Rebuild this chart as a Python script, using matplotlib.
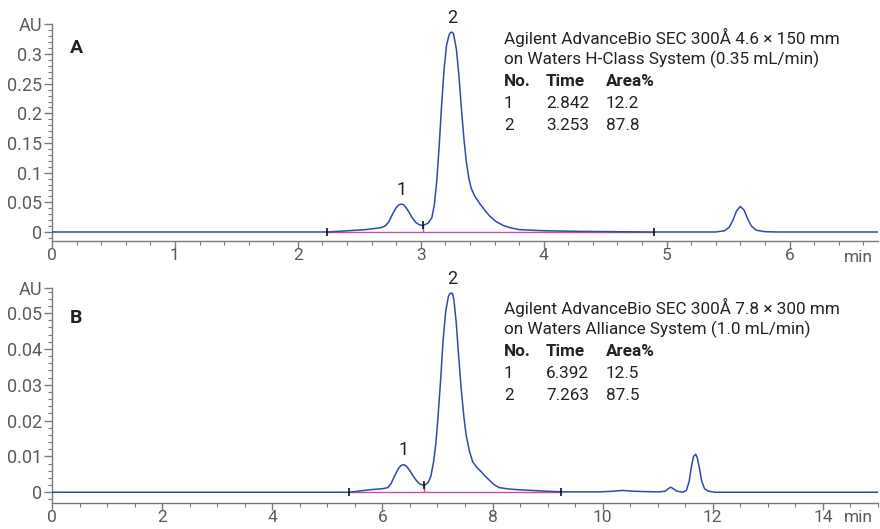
import numpy as np
import matplotlib
matplotlib.use("Agg")
import matplotlib.pyplot as plt
from matplotlib.ticker import MultipleLocator

plt.rcParams['font.family'] = ['Roboto', 'DejaVu Sans']

# --- panel A: 4.6 x 150 mm column, H-Class (time in min, signal in AU)
time_a = [0.0, 1.70, 2.24, 2.40, 2.55, 2.67, 2.71, 2.74, 2.77, 2.80, 2.822, 2.842,
          2.862, 2.87, 2.90, 2.93, 2.96, 2.99, 3.02, 3.06, 3.09, 3.11, 3.13, 3.15,
          3.17, 3.19, 3.21, 3.23, 3.24, 3.253, 3.265, 3.27, 3.29, 3.31, 3.33, 3.35, 3.37,
          3.39, 3.41, 3.44, 3.48, 3.52, 3.56, 3.61, 3.67, 3.73, 3.80, 3.90,
          4.02, 4.30, 4.60, 4.90, 5.40, 5.47, 5.51, 5.54, 5.57, 5.60, 5.63,
          5.66, 5.69, 5.73, 5.80, 5.90, 6.72]
au_a = [0.0, 0.0, 0.0, 0.002, 0.004, 0.007, 0.010, 0.017, 0.030, 0.041, 0.0458, 0.047,
        0.0458, 0.044, 0.035, 0.024, 0.016, 0.012, 0.011, 0.015, 0.024, 0.045, 0.085, 0.145,
        0.215, 0.275, 0.315, 0.332, 0.336, 0.337, 0.335, 0.330, 0.308, 0.265, 0.210, 0.160, 0.120,
        0.092, 0.074, 0.060, 0.048, 0.037, 0.027, 0.018, 0.011, 0.007, 0.004, 0.003,
        0.002, 0.001, 0.0005, 0.0, 0.0, 0.002, 0.008, 0.020, 0.036, 0.043, 0.037,
        0.022, 0.010, 0.003, 0.0005, 0.0, 0.0]
cuts_a = [2.24, 3.02, 4.90]
cut_au_a = [0.0, 0.011, 0.0]
peaks_a = [2.842, 3.253]
peak_au_a = [0.047, 0.337]

# --- panel B: 7.8 x 300 mm column, Alliance
time_b = [0.0, 5.40, 5.77, 6.01, 6.10, 6.16, 6.22, 6.29, 6.34, 6.392, 6.44,
          6.50, 6.56, 6.62, 6.68, 6.76, 6.83, 6.88, 6.93, 6.97, 7.01, 7.06,
          7.10, 7.15, 7.20, 7.23, 7.263, 7.28, 7.30, 7.34, 7.38, 7.43, 7.48, 7.52, 7.58,
          7.64, 7.71, 7.79, 7.86, 7.94, 8.03, 8.12, 8.30, 8.48, 8.97, 9.30,
          9.94, 10.20, 10.36, 10.55, 10.72, 11.02, 11.14, 11.20, 11.24, 11.29,
          11.35, 11.45, 11.52, 11.57, 11.61, 11.65, 11.69, 11.72, 11.76, 11.80,
          11.85, 11.92, 12.04, 15.0]
au_b = [0.0, 0.0, 0.0007, 0.0010, 0.0013, 0.0025, 0.0045, 0.0066, 0.0075, 0.0077, 0.0072,
        0.0060, 0.0045, 0.0032, 0.0023, 0.0019, 0.0027, 0.0045, 0.0085, 0.0135, 0.021, 0.032,
        0.042, 0.0505, 0.0548, 0.0555, 0.0556, 0.0551, 0.0535, 0.0475, 0.039, 0.029, 0.021, 0.016, 0.0115,
        0.0085, 0.0070, 0.0058, 0.0046, 0.0034, 0.0021, 0.0013, 0.0009, 0.0007, 0.0003, 0.0001,
        0.0001, 0.0003, 0.0005, 0.0003, 0.0002, 0.0001, 0.0003, 0.0011, 0.0014, 0.0009,
        0.0003, 0.0, 0.0005, 0.0030, 0.0070, 0.0100, 0.0106, 0.0095, 0.0065, 0.0030,
        0.0010, 0.0003, 0.0, 0.0]
cuts_b = [5.40, 6.76, 9.25]
cut_au_b = [0.0, 0.0019, 0.0]
peaks_b = [6.392, 7.263]
peak_au_b = [0.0077, 0.0556]

info_a = ["Agilent AdvanceBio SEC 300Å 4.6 × 150 mm",
          "on Waters H-Class System (0.35 mL/min)"]
info_b = ["Agilent AdvanceBio SEC 300Å 7.8 × 300 mm",
          "on Waters Alliance System (1.0 mL/min)"]
table_a = [["1", "2.842", "12.2"], ["2", "3.253", "87.8"]]
table_b = [["1", "6.392", "12.5"], ["2", "7.263", "87.5"]]

LINE = '#2f4aa8'
PINK = '#d04aa0'
AXC = '#7a7a7a'
TXT = '#5a5a5a'
DARK = '#222222'
FS = 12.3

fig = plt.figure(figsize=(8.8, 5.29), dpi=100)
W, H = 880.0, 529.0


def setup(ax, xmax, ymin, ymax, yminor, xmajor, xminor, yticks):
    for s in ['top', 'right']:
        ax.spines[s].set_visible(False)
    for s in ['left', 'bottom']:
        ax.spines[s].set_color(AXC)
        ax.spines[s].set_linewidth(1.0)
    ax.set_xticks(np.arange(0, xmax, xmajor))
    ax.xaxis.set_minor_locator(MultipleLocator(xminor))
    labels = [('0' if v == 0 else ('%g' % v)) for v in yticks]
    ax.set_yticks(list(yticks) + [ymax], labels + ['AU'])
    ax.yaxis.set_minor_locator(MultipleLocator(yminor))
    ax.tick_params(which='major', length=6, width=1, color=AXC,
                   labelcolor=TXT, labelsize=13, pad=1)
    ax.tick_params(which='minor', length=3, width=0.8, color=AXC)
    ax.tick_params(axis='x', which='major', length=5, pad=0, labelsize=12.5)
    ax.set_xlim(0, xmax)
    ax.set_ylim(ymin, ymax)


def draw(ax, t, y, cuts, cut_au, peaks, peak_au):
    ax.plot([cuts[0], cuts[-1]], [0, 0], color=PINK, lw=1.0, zorder=2)
    ax.vlines(cuts[1], 0, cut_au[1], color=PINK, lw=1.0, zorder=2)
    ax.plot(t, y, color=LINE, lw=1.1, zorder=3)
    ax.plot(cuts, cut_au, ls='none', marker='|', ms=6, mew=1.1,
            color='black', zorder=4)
    for i, (pt, pa) in enumerate(zip(peaks, peak_au)):
        ax.annotate(str(i + 1), (pt, pa), xytext=(0, 4),
                    textcoords='offset points', ha='center', va='bottom',
                    fontsize=13, color=DARK)


ax_a = fig.add_axes([52 / W, 1 - 241 / H, 826 / W, 216.6 / H])
setup(ax_a, 6.72, -0.0152, 0.35, 0.01, 1, 0.2,
      [0, 0.05, 0.1, 0.15, 0.2, 0.25, 0.3])
draw(ax_a, time_a, au_a, cuts_a, cut_au_a, peaks_a, peak_au_a)

ax_b = fig.add_axes([52 / W, 1 - 503 / H, 826 / W, 214.6 / H])
setup(ax_b, 15.0, -0.003, 0.0569, 0.002, 2, 0.5,
      [0, 0.01, 0.02, 0.03, 0.04, 0.05])
draw(ax_b, time_b, au_b, cuts_b, cut_au_b, peaks_b, peak_au_b)

# panel letters, unit labels and the results tables
for ax, letter, info, table, top in [(ax_a, 'A', info_a, table_a, 37),
                                     (ax_b, 'B', info_b, table_b, 307)]:
    fig.text(70 / W, 1 - (top + 11) / H, letter, fontsize=14,
             fontweight='bold', color=DARK, va='center')
    rows = info + [None] + table
    for k, row in enumerate(rows):
        y = 1 - (top + k * 22.2) / H
        if row is None:
            for x, lab in zip([504, 546, 606], ['No.', 'Time', 'Area%']):
                fig.text(x / W, y, lab, fontsize=FS, fontweight='bold',
                         color=DARK, va='center')
        elif isinstance(row, str):
            fig.text(504 / W, y, row, fontsize=FS, color=DARK, va='center')
        else:
            for x, val in zip([504, 546, 606], row):
                fig.text(x / W, y, val, fontsize=FS, color=DARK, va='center')

fig.text(858 / W, 1 - 257 / H, 'min', fontsize=12.5, color=TXT,
         ha='center', va='center')
fig.text(858 / W, 1 - 518 / H, 'min', fontsize=12.5, color=TXT,
         ha='center', va='center')

fig.savefig('out.png', dpi=100)
